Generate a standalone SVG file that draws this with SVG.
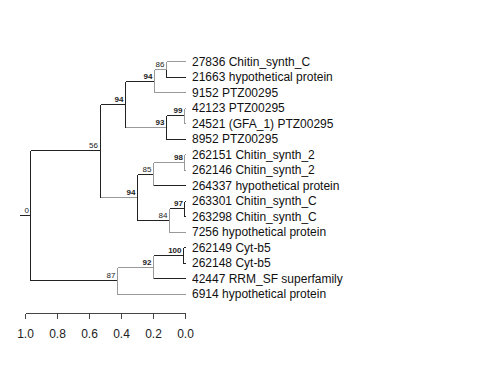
<svg xmlns="http://www.w3.org/2000/svg" width="480" height="384" viewBox="0 0 480 384">
<style>
.d{stroke:#222;stroke-width:1;fill:none}
.g{stroke:#999;stroke-width:1;fill:none}
.ax{stroke:#444;stroke-width:1;fill:none}
.leaf{font-family:"Liberation Sans",Arial,sans-serif;font-size:12px;fill:#111}
.bs{font-family:"Liberation Sans",Arial,sans-serif;font-size:8px;fill:#222;text-anchor:end}
.b{font-weight:bold}
.tk{font-family:"Liberation Sans",Arial,sans-serif;font-size:12px;fill:#222;text-anchor:middle}
</style>
<rect width="480" height="384" fill="#fff"/>
<g id="connectors" shape-rendering="crispEdges">
  <!-- root -->
  <path class="d" d="M20 215.5H30.5M30.5 150.5V280.5M30.5 150.5H100.5M30.5 280.5H117.5"/>
  <!-- node 56 -->
  <path class="d" d="M100.5 104.5V197.5M100.5 104.5H125.5"/>
  <path class="g" d="M100.5 197.5H137.5"/>
  <!-- node 94b -->
  <path class="d" d="M125.5 81.5V127.5M125.5 81.5H154.5"/>
  <path class="g" d="M125.5 127.5H166.5"/>
  <!-- node 94a -->
  <path class="g" d="M154.5 69.5V92.5M154.5 69.5H166.5M154.5 92.5H185.5"/>
  <!-- node 86 -->
  <path class="g" d="M166.5 61.5V69.5M166.5 61.5H185.5"/>
  <path class="d" d="M166.5 69.5V77.5M166.5 77.5H185.5"/>
  <!-- node 93 -->
  <path class="d" d="M166.5 115.5V139.5M166.5 115.5H184.5M166.5 139.5H185.5"/>
  <!-- node 99 -->
  <path class="g" d="M184.5 108.5V123.5M184.5 108.5H185.5M184.5 123.5H185.5"/>
  <!-- node 94c -->
  <path class="d" d="M137.5 174.5V220.5M137.5 174.5H153.5M137.5 220.5H169.5"/>
  <!-- node 85 -->
  <path class="g" d="M153.5 162.5V185.5M153.5 162.5H184.5"/>
  <path class="d" d="M153.5 185.5H185.5"/>
  <!-- node 98 -->
  <path class="g" d="M184.5 154.5V170.5M184.5 154.5H185.5M184.5 170.5H185.5"/>
  <!-- node 84 -->
  <path class="g" d="M169.5 208.5V232.5M169.5 232.5H185.5"/>
  <path class="d" d="M169.5 208.5H184.5"/>
  <!-- node 97 -->
  <path class="d" d="M184.5 201.5V216.5M184.5 201.5H185.5M184.5 216.5H185.5"/>
  <!-- node 87 -->
  <path class="g" d="M117.5 267.5V294.5M117.5 267.5H153.5M117.5 294.5H185.5"/>
  <!-- node 92 -->
  <path class="g" d="M153.5 255.5V278.5"/>
  <path class="d" d="M153.5 255.5H183.5M153.5 278.5H185.5"/>
  <!-- node 100 -->
  <path class="d" d="M183.5 247.5V263.5M183.5 247.5H185.5M183.5 263.5H185.5"/>
</g>
<g id="n-root"><text class="bs" x="29" y="213">0</text></g>
<g id="n-56"><text class="bs" x="98" y="148">56</text></g>
<g id="n-94b"><text class="bs b" x="123.5" y="101.5">94</text></g>
<g id="n-94a"><text class="bs b" x="152.5" y="78.5">94</text></g>
<g id="n-86"><text class="bs" x="164.5" y="67">86</text></g>
<g id="n-93"><text class="bs b" x="164.5" y="125">93</text></g>
<g id="n-99"><text class="bs b" x="182.5" y="113">99</text></g>
<g id="n-94c"><text class="bs b" x="135.5" y="194.5">94</text></g>
<g id="n-85"><text class="bs" x="151.5" y="171.5">85</text></g>
<g id="n-98"><text class="bs b" x="183" y="160">98</text></g>
<g id="n-84"><text class="bs" x="167.5" y="218">84</text></g>
<g id="n-97"><text class="bs b" x="183" y="206">97</text></g>
<g id="n-87"><text class="bs" x="115.5" y="278">87</text></g>
<g id="n-92"><text class="bs b" x="151.5" y="264.5">92</text></g>
<g id="n-100"><text class="bs b" x="181.5" y="253">100</text></g>
<g id="leaf-27836"><text class="leaf" x="192" y="65.8">27836 Chitin_synth_C</text></g>
<g id="leaf-21663"><text class="leaf" x="192" y="81.3">21663 hypothetical protein</text></g>
<g id="leaf-9152"><text class="leaf" x="192" y="96.8">9152 PTZ00295</text></g>
<g id="leaf-42123"><text class="leaf" x="192" y="112.3">42123 PTZ00295</text></g>
<g id="leaf-24521"><text class="leaf" x="192" y="127.8">24521 (GFA_1) PTZ00295</text></g>
<g id="leaf-8952"><text class="leaf" x="192" y="143.3">8952 PTZ00295</text></g>
<g id="leaf-262151"><text class="leaf" x="192" y="158.8">262151 Chitin_synth_2</text></g>
<g id="leaf-262146"><text class="leaf" x="192" y="174.3">262146 Chitin_synth_2</text></g>
<g id="leaf-264337"><text class="leaf" x="192" y="189.8">264337 hypothetical protein</text></g>
<g id="leaf-263301"><text class="leaf" x="192" y="205.3">263301 Chitin_synth_C</text></g>
<g id="leaf-263298"><text class="leaf" x="192" y="220.8">263298 Chitin_synth_C</text></g>
<g id="leaf-7256"><text class="leaf" x="192" y="236.3">7256 hypothetical protein</text></g>
<g id="leaf-262149"><text class="leaf" x="192" y="251.8">262149 Cyt-b5</text></g>
<g id="leaf-262148"><text class="leaf" x="192" y="267.3">262148 Cyt-b5</text></g>
<g id="leaf-42447"><text class="leaf" x="192" y="282.8">42447 RRM_SF superfamily</text></g>
<g id="leaf-6914"><text class="leaf" x="192" y="298.3">6914 hypothetical protein</text></g>
<g id="axis">
  <path class="ax" shape-rendering="crispEdges" d="M25.5 313.5H185.5M25.5 313.5V319M57.5 313.5V319M89.5 313.5V319M121.5 313.5V319M153.5 313.5V319M185.5 313.5V319"/>
  <text class="tk" x="25.5" y="337.5">1.0</text>
  <text class="tk" x="57.5" y="337.5">0.8</text>
  <text class="tk" x="89.5" y="337.5">0.6</text>
  <text class="tk" x="121.5" y="337.5">0.4</text>
  <text class="tk" x="153.5" y="337.5">0.2</text>
  <text class="tk" x="185.5" y="337.5">0.0</text>
</g>
</svg>
